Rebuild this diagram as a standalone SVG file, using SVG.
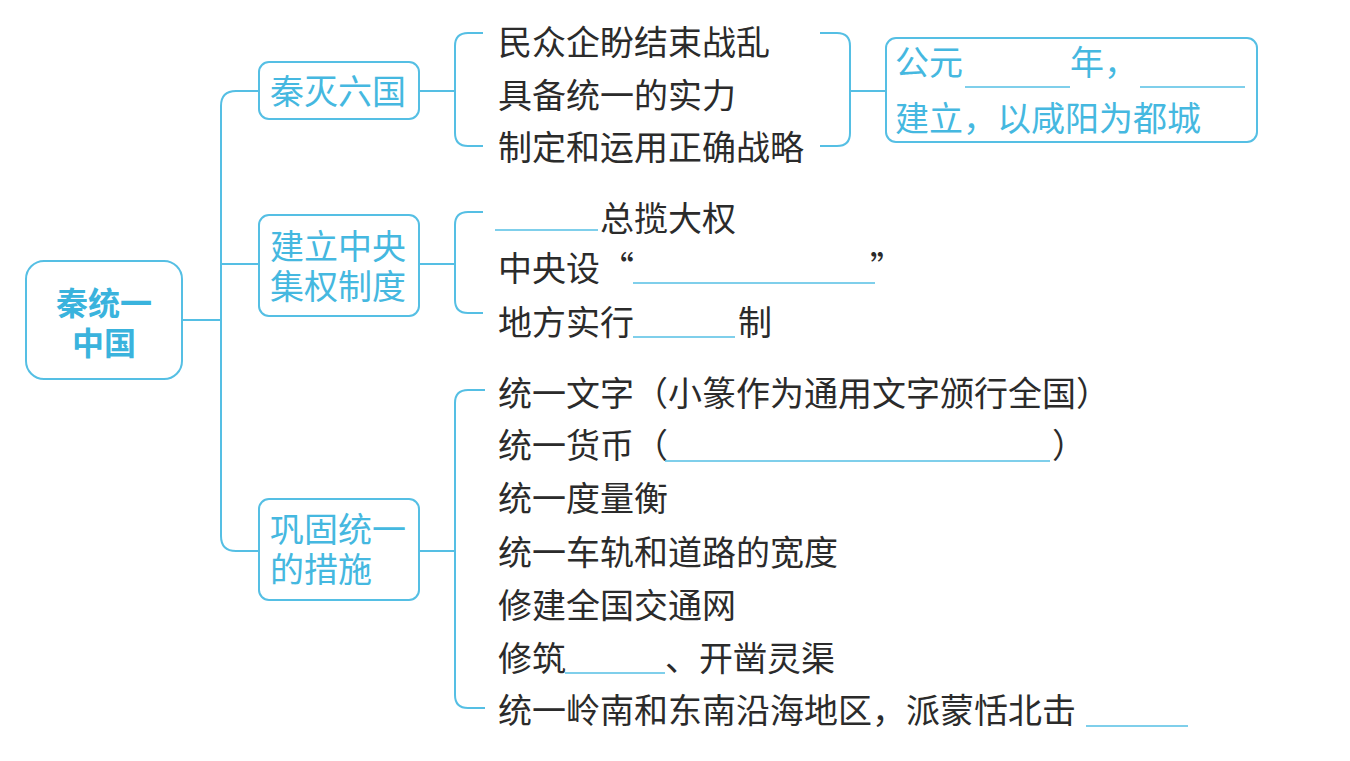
<svg xmlns="http://www.w3.org/2000/svg" width="1350" height="761" viewBox="0 0 1350 761">
<style>
.box{fill:#fff;stroke:#55bfe4;stroke-width:2}
.ln{fill:none;stroke:#55bfe4;stroke-width:2}
.bl{fill:none;stroke:#55bfe4;stroke-width:1.5}
.ct{font-family:"Noto Sans CJK SC",sans-serif;font-size:34px;fill:#45b8e0}
.rt{font-family:"Noto Sans CJK SC",sans-serif;font-size:32px;font-weight:bold;fill:#3ab3dd}
.tx{font-family:"Noto Sans CJK SC",sans-serif;font-size:34px;fill:#2b2b2b}
</style>
<rect width="1350" height="761" fill="#fff"/>
<g id="connectors">
<path class="ln" d="M182,320 H221"/>
<path class="ln" d="M259,91 H236 Q221,91 221,106 V536 Q221,551 236,551 H259"/>
<path class="ln" d="M221,264 H259"/>
<path class="ln" d="M419,91 H455"/>
<path class="ln" d="M483,33 H468 Q455,33 455,46 V133 Q455,146 468,146 H483"/>
<path class="ln" d="M820,33 H837 Q850,33 850,46 V133 Q850,146 837,146 H820"/>
<path class="ln" d="M850,91 H886"/>
<path class="ln" d="M419,264 H455"/>
<path class="ln" d="M483,212 H468 Q455,212 455,225 V300 Q455,313 468,313 H483"/>
<path class="ln" d="M419,551 H455"/>
<path class="ln" d="M485,390 H468 Q455,390 455,403 V695 Q455,708 468,708 H485"/>
</g>
<g id="root">
<rect class="box" x="26" y="261" width="156" height="118" rx="18"/>
<text class="rt" text-anchor="middle"><tspan x="104" y="315">秦统一</tspan><tspan x="104" y="355">中国</tspan></text>
</g>
<g id="n1">
<rect class="box" x="259" y="62" width="160" height="57" rx="10"/>
<text class="ct" x="270" y="104">秦灭六国</text>
</g>
<g id="n2">
<rect class="box" x="259" y="215" width="160" height="101" rx="10"/>
<text class="ct"><tspan x="270" y="259">建立中央</tspan><tspan x="270" y="299">集权制度</tspan></text>
</g>
<g id="n3">
<rect class="box" x="259" y="499" width="160" height="101" rx="10"/>
<text class="ct"><tspan x="270" y="542">巩固统一</tspan><tspan x="270" y="582">的措施</tspan></text>
</g>
<g id="g1">
<text class="tx" x="498" y="55">民众企盼结束战乱</text>
<text class="tx" x="498" y="108">具备统一的实力</text>
<text class="tx" x="498" y="160">制定和运用正确战略</text>
</g>
<g id="answer">
<rect class="box" x="886" y="38" width="371" height="104" rx="10"/>
<text class="ct" x="895" y="75">公元</text>
<line class="bl" x1="965" y1="87" x2="1070" y2="87"/>
<text class="ct" x="1070" y="75">年，</text>
<line class="bl" x1="1140" y1="87" x2="1245" y2="87"/>
<text class="ct" x="895" y="131">建立，以咸阳为都城</text>
</g>
<g id="g2">
<line class="bl" x1="495" y1="230" x2="598" y2="230"/>
<text class="tx" x="600" y="231">总揽大权</text>
<text class="tx" x="498" y="281">中央设“</text>
<line class="bl" x1="633" y1="283" x2="875" y2="283"/>
<text class="tx" x="870" y="281">”</text>
<text class="tx" x="498" y="335">地方实行</text>
<line class="bl" x1="633" y1="337" x2="735" y2="337"/>
<text class="tx" x="738" y="335">制</text>
</g>
<g id="g3">
<text class="tx" x="498" y="406">统一文字（小篆作为通用文字颁行全国）</text>
<text class="tx" x="498" y="458">统一货币（</text>
<line class="bl" x1="665" y1="461" x2="1050" y2="461"/>
<text class="tx" x="1052" y="458">）</text>
<text class="tx" x="498" y="511">统一度量衡</text>
<text class="tx" x="498" y="565">统一车轨和道路的宽度</text>
<text class="tx" x="498" y="618">修建全国交通网</text>
<text class="tx" x="498" y="671">修筑</text>
<line class="bl" x1="565" y1="673" x2="665" y2="673"/>
<text class="tx" x="665" y="671">、开凿灵渠</text>
<text class="tx" x="498" y="723">统一岭南和东南沿海地区，派蒙恬北击</text>
<line class="bl" x1="1086" y1="726" x2="1188" y2="726"/>
</g>
</svg>
